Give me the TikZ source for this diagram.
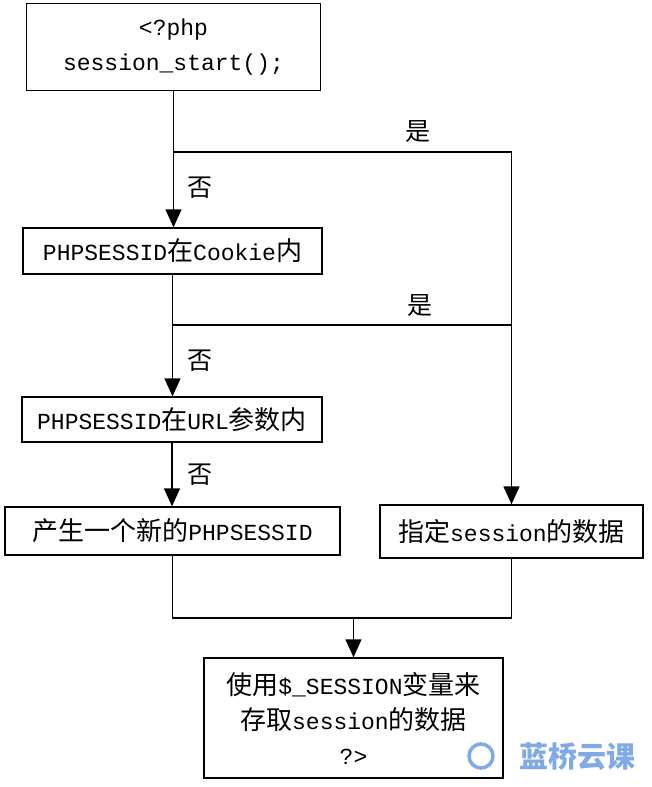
\documentclass[tikz,border=0pt]{standalone}
\usepackage{fontspec}
\setmainfont{Liberation Mono}
\newfontfamily\cjk{Noto Sans CJK SC}
\usetikzlibrary{arrows.meta}
\newcommand{\zh}[1]{{\cjk\fontsize{26}{35}\selectfont #1}}
\definecolor{wmblue}{HTML}{7FAAE6}
\begin{document}
\begin{tikzpicture}[x=1pt,y=-1pt,
  box/.style={draw,line width=1.3pt,inner sep=0pt,align=center,font=\fontsize{23}{35}\selectfont},
  arr/.style={-{Triangle[width=16pt,length=18pt]}},
  ln/.style={line width=1.3pt},
  lab/.style={inner sep=0pt,font=\cjk\fontsize{25}{28}\selectfont}]
\useasboundingbox[fill=white] (0,0) rectangle (651,787);
\node[box,minimum width=294pt,minimum height=87pt] (b1) at (173.5,47) {\raisebox{-3pt}{<?php}\\\raisebox{-3pt}{session\_start();}};
\node[box,minimum width=299pt,minimum height=46pt] (b2) at (172.5,251) {PHPSESSID\zh{在}Cookie\zh{内}};
\node[box,minimum width=300pt,minimum height=45pt] (b3) at (172,419.5) {PHPSESSID\zh{在}URL\zh{参数内}};
\node[box,minimum width=335pt,minimum height=48pt] (b4) at (172.5,531) {\zh{产生一个新的}PHPSESSID};
\node[box,minimum width=263pt,minimum height=53pt] (b5) at (511.5,531.5) {\zh{指定}session\zh{的数据}};
\node[box,minimum width=299pt,minimum height=120pt] (b6) at (353.5,718) {\zh{使用}\$\_SESSION\zh{变量来}\\\zh{存取}session\zh{的数据}\\?>};
\coordinate (j1) at (173,152);
\coordinate (j2) at (173,325);
\coordinate (j3) at (173,618);
\draw[ln,arr] (b1.south) -- (b1.south |- b2.north);
\draw[ln,arr] (b2.south) -- (b2.south |- b3.north);
\draw[ln,arr] (b3.south) -- (b3.south |- b4.north);
\draw[ln] (j1) -- (j1 -| b5.north);
\draw[ln,arr] (j1 -| b5.north) -- (b5.north);
\draw[ln] (j2) -- (j2 -| b5.north);
\draw[ln] (b4.south) -- (b4.south |- j3) -- (j3 -| b5.south) -- (b5.south);
\draw[ln,arr] (j3 -| b6.north) -- (b6.north);
\node[lab] (n1) at (200,188) {否};
\node[lab] (n2) at (200,361) {否};
\node[lab] (n3) at (200,475) {否};
\node[lab] (y1) at (418,132) {是};
\node[lab] (y2) at (420,306) {是};
\node[circle,draw=wmblue,line width=3.5pt,minimum size=24pt,inner sep=0pt] (logo) at (481,756) {};
\node[inner sep=0pt,text=wmblue,font=\cjk\bfseries\fontsize{29}{30}\selectfont] (wm) at (577,757) {蓝桥云课};
\end{tikzpicture}
\end{document}
